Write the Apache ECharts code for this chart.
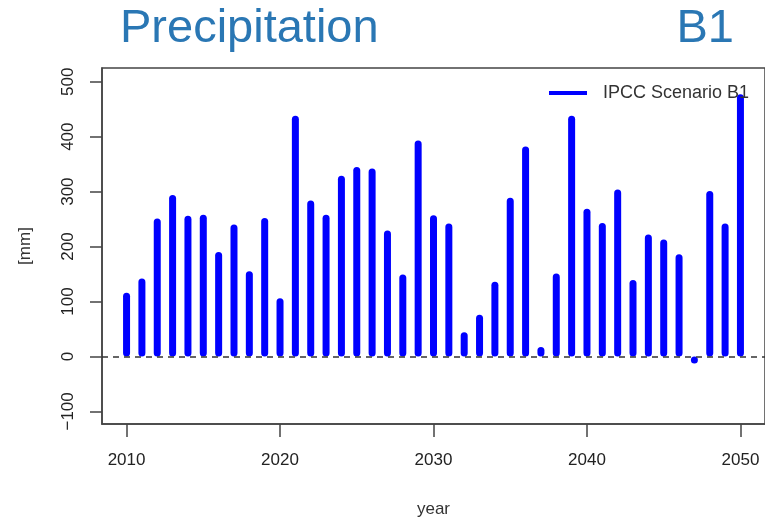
<!DOCTYPE html>
<html>
<head>
<meta charset="utf-8">
<script src="https://cdn.jsdelivr.net/npm/echarts@6/dist/echarts.min.js"></script>
<style>
  html, body { margin: 0; padding: 0; background: #fff; }
  #precip { width: 765px; height: 519px; }
</style>
</head>
<body>
<div id="precip"></div>
<script>
// yearly precipitation, IPCC scenario B1
var years = [2010, 2011, 2012, 2013, 2014, 2015, 2016, 2017, 2018, 2019,
             2020, 2021, 2022, 2023, 2024, 2025, 2026, 2027, 2028, 2029,
             2030, 2031, 2032, 2033, 2034, 2035, 2036, 2037, 2038, 2039,
             2040, 2041, 2042, 2043, 2044, 2045, 2046, 2047, 2048, 2049, 2050];
var precipB1 = [116, 142, 251, 294, 256, 258, 190, 240, 155, 252,
                106, 438, 284, 258, 329, 345, 342, 229, 149, 393,
                257, 242, 44, 76, 136, 289, 382, 17, 151, 438,
                269, 243, 304, 139, 222, 213, 186, -13, 301, 242, 477];
var xTicks = [2010, 2020, 2030, 2040, 2050];
var yTicks = [-100, 0, 100, 200, 300, 400, 500];

(function(){
    var chart = echarts.init(document.getElementById("precip"));
    var font = 'Liberation Sans, Arial, sans-serif';

    var points = [];
    for (var i = 0; i < years.length; i++) {
        points.push([years[i], precipB1[i]]);
    }

    var option = {
        animation: false,
        textStyle: { fontFamily: font },
        title: [
            {
                text: 'Precipitation',
                left: 115,
                top: 1,
                textStyle: { fontSize: 47, fontWeight: 'normal', color: '#2a77b4', fontFamily: font }
            },
            {
                text: 'B1',
                right: 26,
                top: 1,
                textStyle: { fontSize: 47, fontWeight: 'normal', color: '#2a77b4', fontFamily: font }
            }
        ],
        legend: {
            left: 544,
            top: 79,
            icon: 'rect',
            itemWidth: 38,
            itemHeight: 4,
            data: ['IPCC Scenario B1'],
            textStyle: { fontSize: 18, color: '#333', padding: [0, 0, 0, 11] }
        },
        grid: {
            left: 102,
            top: 68,
            right: 0,
            bottom: 95,
            outerBoundsMode: 'none',
            containLabel: false,
            show: true,
            borderColor: '#444',
            borderWidth: 1.5
        },
        xAxis: {
            type: 'value',
            min: 2008.4,
            max: 2051.6,
            name: 'year',
            nameLocation: 'middle',
            nameGap: 77,
            nameTextStyle: { fontSize: 17, color: '#333' },
            axisLine: { show: true, onZero: false, lineStyle: { color: '#444', width: 1.5 } },
            axisTick: { show: true, length: 13, customValues: xTicks, lineStyle: { color: '#444', width: 1.5 } },
            axisLabel: {
                customValues: xTicks, margin: 28, fontSize: 17, color: '#222',
                formatter: function (v) { return String(v); }
            },
            splitLine: { show: false }
        },
        yAxis: {
            type: 'value',
            min: -123,
            max: 525,
            name: '[mm]',
            nameLocation: 'middle',
            nameRotate: 90,
            nameGap: 68,
            nameTextStyle: { fontSize: 17, color: '#333' },
            axisLine: { show: true, onZero: false, lineStyle: { color: '#444', width: 1.5 } },
            axisTick: { show: true, length: 12, customValues: yTicks, lineStyle: { color: '#444', width: 1.5 } },
            axisLabel: {
                customValues: yTicks, rotate: 90, margin: 25, fontSize: 17, color: '#222',
                formatter: function (v) { return v < 0 ? '\u2212' + Math.abs(v) : String(v); }
            },
            splitLine: { show: false }
        },
        series: [
            {
                name: 'IPCC Scenario B1',
                type: 'bar',
                data: points,
                barWidth: 7,
                itemStyle: { color: '#0000ff', borderRadius: 3.5 },
                markLine: {
                    silent: true,
                    symbol: 'none',
                    label: { show: false },
                    lineStyle: { color: '#333', type: [6, 5], width: 1.5 },
                    data: [{ yAxis: 0 }]
                }
            }
        ]
    };
    chart.setOption(option);
})();
</script>
</body>
</html>
